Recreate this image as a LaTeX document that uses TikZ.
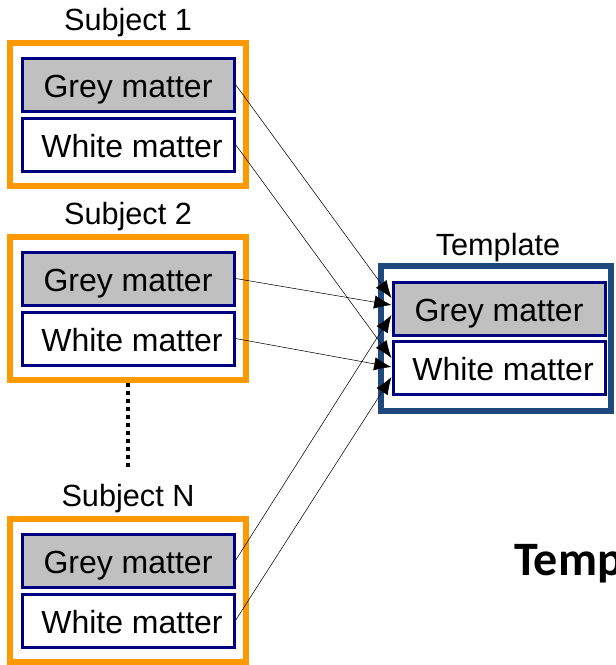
\documentclass[tikz,border=0pt]{standalone}
\usepackage{fontspec}
\setmainfont{Liberation Sans}
\newfontfamily\calibri{Carlito}
\usetikzlibrary{arrows.meta}
\definecolor{boxorange}{HTML}{FF9900}
\definecolor{matternavy}{HTML}{000080}
\definecolor{tmplblue}{HTML}{1F497D}
\definecolor{mattergrey}{HTML}{C0C0C0}
\begin{document}
\begin{tikzpicture}[x=0.75pt,y=-0.75pt,>={Latex[length=13pt,width=10pt]},
	subjbox/.style={draw=boxorange,line width=5pt,minimum width=177pt,minimum height=107.25pt,inner sep=0pt},
	tmplbox/.style={draw=tmplblue,line width=4.5pt,minimum width=172.5pt,minimum height=108.75pt,inner sep=0pt},
	matter/.style={draw=matternavy,fill=white,line width=2.25pt,minimum width=159pt,minimum height=39.75pt,inner sep=0pt,text height=18.75pt,text depth=0pt,font=\fontsize{24}{28}\selectfont},
	greym/.style={matter,fill=mattergrey},
	boxlabel/.style={anchor=base,inner sep=0pt,font=\fontsize{23}{27}\selectfont}]
	\useasboundingbox (0,0) rectangle (615,665);
	% subjects
	\foreach \n/\dy in {1/0,2/194,N/476}{
		\node[boxlabel] (l\n) at (128,30+\dy) {Subject \n};
		\node[subjbox] (s\n) at (128,114.5+\dy) {};
		\node[greym] (g\n) at (128,84.5+\dy) {Grey matter};
		\node[matter] (w\n) at (128,144.5+\dy) {\hspace{6pt}White matter};
	}
	\coordinate (dtop) at (128,383);
	\coordinate (dbot) at (128,467);
	\draw[line width=3pt,dash pattern=on 3pt off 3pt] (dtop) -- (dbot);
	% template
	\node[boxlabel] (lt) at (498,255) {Template};
	\node[tmplbox] (t) at (496,338.5) {};
	\node[greym] (tg) at (499,309) {Grey matter};
	\node[matter] (tw) at (499,368) {\hspace{6pt}White matter};
	\draw[->,line width=0.4pt] (g1.east) -- ([yshift=8.25pt]tg.west);
	\draw[->,line width=0.4pt] (g2.east) -- ([yshift=3pt]tg.west);
	\draw[->,line width=0.4pt] (gN.east) -- ([yshift=-4.5pt]tg.west);
	\draw[->,line width=0.4pt] (w1.east) -- ([yshift=7.5pt]tw.west);
	\draw[->,line width=0.4pt] (w2.east) -- ([yshift=0.75pt]tw.west);
	\draw[->,line width=0.4pt] (wN.east) -- ([yshift=-6.75pt]tw.west);
	\node[anchor=base west,inner sep=0pt,font=\calibri\bfseries\fontsize{36}{42}\selectfont] (tmp) at (514,575) {Temp};
\end{tikzpicture}
\end{document}
